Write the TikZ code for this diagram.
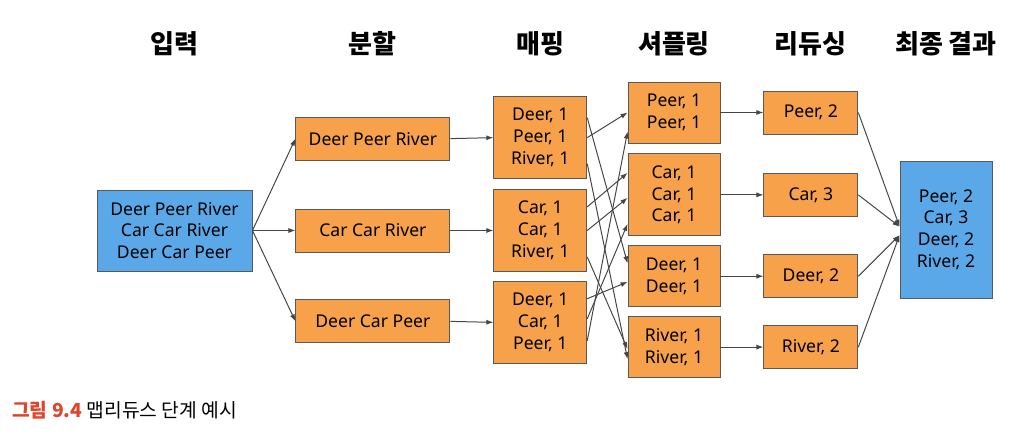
\documentclass[tikz,border=0pt]{standalone}
\usepackage{fontspec}
\setmainfont{Noto Sans}
\newfontfamily\krfont{Noto Sans CJK KR}
\usepackage{tikz}
\usetikzlibrary{positioning,arrows.meta}
\definecolor{boxorange}{HTML}{F7A14A}
\definecolor{boxblue}{HTML}{5BA8E8}
\definecolor{capred}{HTML}{E0452B}
\definecolor{linegray}{HTML}{454545}

\begin{document}
\begin{tikzpicture}[x=0.025cm,y=-0.025cm,->,>={Latex[length=5pt,width=3.6pt]},
  draw=linegray,line width=0.7pt,
  box/.style={draw=black!65,line width=0.6pt,align=center,inner sep=0pt,
    font=\fontsize{12.5}{15.5}\selectfont},
  obox/.style={box,fill=boxorange},
  bbox/.style={box,fill=boxblue},
  splitbox/.style={obox,minimum width=3.85cm,minimum height=1.075cm},
  mapbox/.style={obox,minimum width=2.325cm,minimum height=2.05cm},
  shufbox/.style={obox,minimum width=2.3cm,minimum height=#1},
  redbox/.style={obox,minimum width=2.35cm,minimum height=1.075cm},
  head/.style={font=\krfont\bfseries\fontsize{18.5}{21}\selectfont}]
\useasboundingbox (0,0) rectangle (1012,434);
\coordinate (top) at (0,44);

% input and split
\node[bbox,minimum width=3.875cm,minimum height=2.025cm] (in) at (174.5,230.5)
  {Deer Peer River\\Car Car River\\Deer Car Peer};
\node[splitbox] (s2) [right=1.075cm of in] {Car Car River};
\node[splitbox] (s1) [above=1.2cm of s2] {Deer Peer River};
\node[splitbox] (s3) [below=1.175cm of s2] {Deer Car Peer};

% map
\node[mapbox] (m2) [right=1.075cm of s2] {Car, 1\\Car, 1\\River, 1};
\node[mapbox] (m1) [above=0.25cm of m2] {Deer, 1\\Peer, 1\\River, 1};
\node[mapbox] (m3) [below=0.225cm of m2] {Deer, 1\\Car, 1\\Peer, 1};

% shuffle
\node[shufbox=1.525cm] (sp) at (674,112.5) {Peer, 1\\Peer, 1};
\node[shufbox=2.05cm] (sc) [below=0.25cm of sp] {Car, 1\\Car, 1\\Car, 1};
\node[shufbox=1.525cm] (sd) [below=0.225cm of sc] {Deer, 1\\Deer, 1};
\node[shufbox=1.525cm] (sr) [below=0.225cm of sd] {River, 1\\River, 1};

% reduce
\node[redbox] (rp) [right=1.075cm of sp] {Peer, 2};
\node[redbox] (rc) [right=1.075cm of sc] {Car, 3};
\node[redbox] (rd) [right=1.075cm of sd] {Deer, 2};
\node[redbox] (rr) [right=1.075cm of sr] {River, 2};

% final result
\node[bbox,minimum width=2.3cm,minimum height=3.425cm] (fin) at (946,229.5)
  {Peer, 2\\Car, 3\\Deer, 2\\River, 2};

% column titles
\node[head] (tin) at (in |- top) {입력};
\node[head] (tsplit) at (s1 |- top) {분할};
\node[head] (tmap) at (m1 |- top) {매핑};
\node[head] (tshuf) at (sp |- top) {셔플링};
\node[head] (tred) at (rp |- top) {리듀싱};
\node[head] (tfin) at (fin |- top) {최종 결과};

\foreach \i in {1,2,3} {
  \draw (in.east) -- (s\i.west);
  \draw (s\i.east) -- (m\i.west);
}

% map -> shuffle
\draw ([yshift=0.5cm]m1.east) -- ([yshift=0.32cm]sd.west);
\draw (m1.east) -- (sp.west);
\draw ([yshift=-0.65cm]m1.east) -- ([yshift=-0.3cm]sr.west);
\draw ([yshift=0.59cm]m2.east) -- ([yshift=0.55cm]sc.west);
\draw (m2.east) -- ([yshift=-0.075cm]sc.west);
\draw ([yshift=-0.66cm]m2.east) -- ([yshift=-0.05cm]sr.west);
\draw ([yshift=0.59cm]m3.east) -- ([yshift=-0.14cm]sd.west);
\draw ([yshift=0.09cm]m3.east) -- ([yshift=-0.725cm]sc.west);
\draw ([yshift=-0.46cm]m3.east) -- ([yshift=-0.475cm]sp.west);

% shuffle -> reduce -> final
\foreach \k in {p,c,d,r}
  \draw (s\k.east) -- (r\k.west);
\draw (rp.east) -- ([yshift=0.07cm]fin.west);
\draw (rc.east) -- ([yshift=0.07cm]fin.west);
\draw (rd.east) -- ([yshift=-0.14cm]fin.west);
\draw (rr.east) -- ([yshift=-0.14cm]fin.west);

% caption
\node[anchor=west,font=\krfont\fontsize{13.7}{15}\selectfont] (cap) at (7,410)
  {\textcolor{capred}{\bfseries 그림 9.4} 맵리듀스 단계 예시};
\end{tikzpicture}
\end{document}
